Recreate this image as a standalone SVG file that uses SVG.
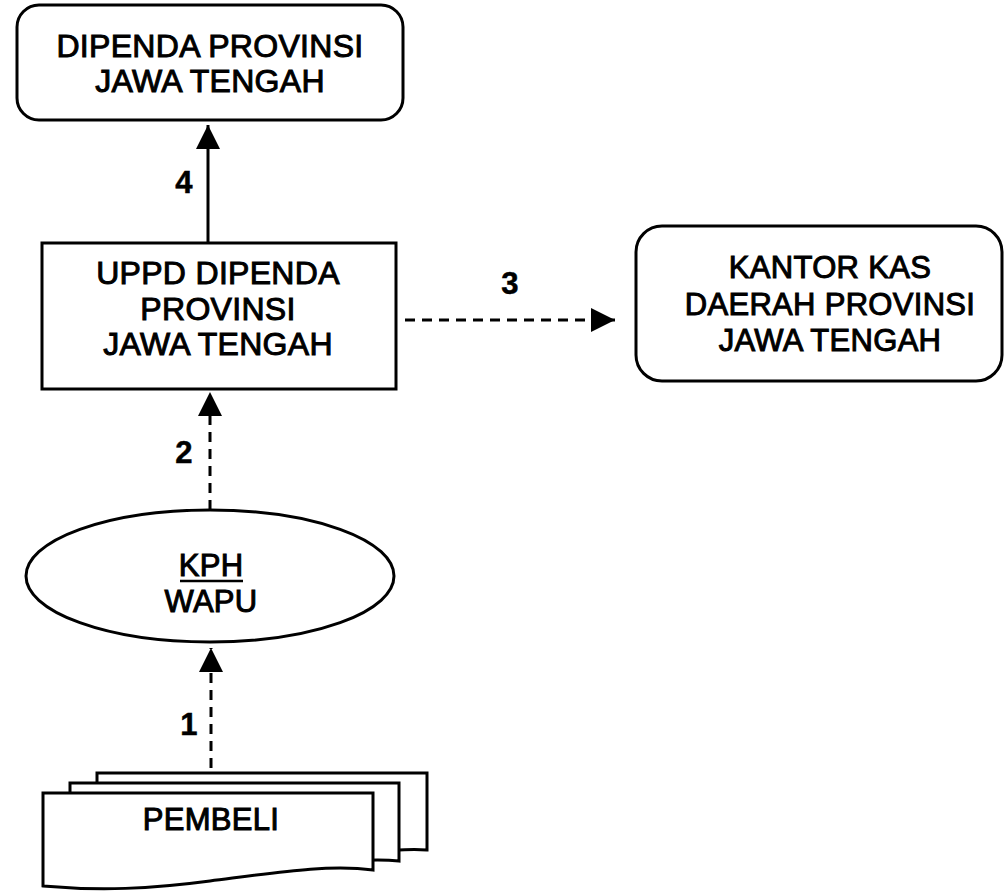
<svg xmlns="http://www.w3.org/2000/svg" width="1005" height="891" viewBox="0 0 1005 891">
<defs>
<style>
.box{fill:#fff;stroke:#000;stroke-width:3}
.t{font-family:"Liberation Sans",Arial,sans-serif;font-size:31px;font-weight:normal;text-anchor:middle;fill:#000;stroke:#000;stroke-width:1;letter-spacing:0.3px}
.big{font-size:32px}
.num{font-weight:bold;stroke-width:0.5}
.ln{stroke:#000;stroke-width:3;fill:none}
.dash{stroke:#000;stroke-width:3;fill:none;stroke-dasharray:10 7}
</style>
<marker id="ah" viewBox="0 0 24 24" refX="24" refY="12" markerWidth="24" markerHeight="24" markerUnits="userSpaceOnUse" orient="auto">
<path d="M0,0 L24,12 L0,24 Z" fill="#000"/>
</marker>
</defs>
<rect width="1005" height="891" fill="#fff"/>
<g id="connectors">
<line class="ln" x1="208" y1="243" x2="208" y2="125" marker-end="url(#ah)"/>
<line class="dash" x1="405" y1="320" x2="615" y2="320" marker-end="url(#ah)"/>
<line class="dash" x1="210" y1="510" x2="210" y2="392" marker-end="url(#ah)"/>
<line class="dash" x1="211" y1="768" x2="211" y2="648" marker-end="url(#ah)"/>
<text class="t num" x="184" y="193">4</text>
<text class="t num" x="510" y="294">3</text>
<text class="t num" x="184" y="463">2</text>
<text class="t num" x="189" y="735">1</text>
</g>
<g id="dipenda">
<rect class="box" x="17" y="5" width="386" height="115" rx="22"/>
<text class="t big" x="210" y="57">DIPENDA PROVINSI</text>
<text class="t big" x="210" y="92">JAWA TENGAH</text>
</g>
<g id="uppd">
<rect class="box" x="42" y="243" width="354" height="146"/>
<text class="t big" x="218" y="284">UPPD DIPENDA</text>
<text class="t big" x="218" y="320">PROVINSI</text>
<text class="t big" x="218" y="355">JAWA TENGAH</text>
</g>
<g id="kantor">
<rect class="box" x="636" y="226" width="366" height="155" rx="26"/>
<text class="t" x="830" y="278">KANTOR KAS</text>
<text class="t" x="830" y="315">DAERAH PROVINSI</text>
<text class="t" x="830" y="351">JAWA TENGAH</text>
</g>
<g id="kph">
<ellipse class="box" cx="210" cy="576" rx="184" ry="66"/>
<text class="t" x="211" y="576">KPH</text>
<line x1="180" y1="581" x2="243" y2="581" stroke="#000" stroke-width="2.5"/>
<text class="t" x="211" y="612">WAPU</text>
</g>
<g id="pembeli">
<path class="box" d="M97,773 H427 V850 C400,848 360,852 300,860 L97,868 Z"/>
<path class="box" d="M70,783 H399 V861 C370,858 330,862 270,870 L70,878 Z"/>
<path class="box" d="M43,793 H373 V870 C330,864 280,872 210,881 C150,889 100,891 43,886 Z"/>
<text class="t" x="211" y="830">PEMBELI</text>
</g>
</svg>
